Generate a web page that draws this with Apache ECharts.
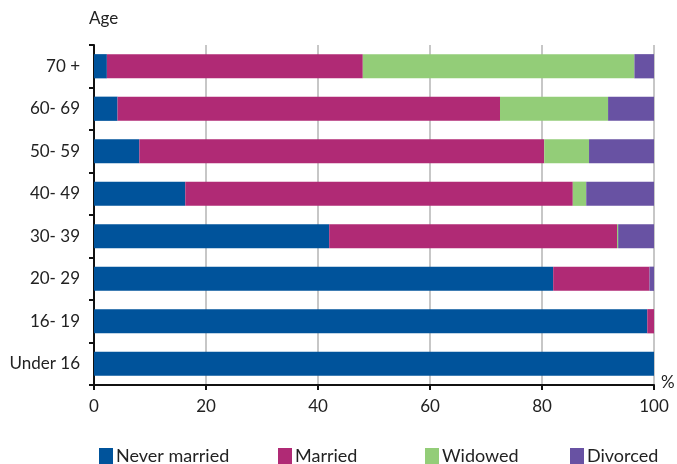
<!DOCTYPE html>
<html>
<head>
<meta charset="utf-8">
<script src="https://cdn.jsdelivr.net/npm/echarts@6/dist/echarts.min.js"></script>
<style>
  html, body { margin: 0; padding: 0; background: #fff; }
  #chart { width: 677px; height: 464px; }
</style>
</head>
<body>
<div id="chart"></div>
<script>
// age groups, top to bottom
const ageGroups = ['70 +', '60- 69', '50- 59', '40- 49', '30- 39', '20- 29', '16- 19', 'Under 16']

// percentage shares per age group
const neverMarried = [2.3, 4.2, 8.1, 16.3, 42.0, 82.0, 98.8, 100]
const married = [45.7, 68.3, 72.3, 69.2, 51.4, 17.2, 1.2, 0]
const widowed = [48.5, 19.3, 8.0, 2.4, 0.2, 0, 0, 0]
const divorced = [3.5, 8.2, 11.6, 12.1, 6.4, 0.8, 0, 0]

const xTicks = [0, 20, 40, 60, 80, 100]

const seriesNames = ['Never married', 'Married', 'Widowed', 'Divorced']
const seriesColors = ['#00539b', '#b02a75', '#93cd78', '#6852a3']
const seriesData = [neverMarried, married, widowed, divorced]

const chart = echarts.init(document.getElementById('chart'))

const font = 'Lato, "Noto Sans", sans-serif'
// legend squares sit at these x positions in the original
const legendLeft = [99, 278, 425, 570]

const option = {
  animation: false,
  textStyle: { fontFamily: font },
  title: [
    { text: 'Age', left: 89, top: 10, padding: 0, textStyle: { fontSize: 17, fontWeight: 'normal', color: '#222', fontFamily: font } },
    { text: '%', left: 661, top: 374, padding: 0, textStyle: { fontSize: 17, fontWeight: 'normal', color: '#222', fontFamily: font } }
  ],
  legend: seriesNames.map((name, i) => ({
    data: [name],
    left: legendLeft[i],
    top: 447,
    itemWidth: 14,
    itemHeight: 16,
    itemGap: 0,
    textStyle: { fontSize: 18, color: '#222', fontFamily: font, padding: [0, 0, 0, -2] },
    icon: 'rect',
    padding: 0
  })),
  grid: { left: 94, right: 23, top: 45, bottom: 79, containLabel: false },
  xAxis: {
    type: 'value',
    min: 0,
    max: 100,
    interval: 20,
    axisLine: { show: true, lineStyle: { color: '#111', width: 2 } },
    axisTick: { show: true, length: 5, lineStyle: { color: '#111', width: 2 } },
    axisLabel: {
      fontSize: 17, color: '#222', margin: 13, fontFamily: font,
      formatter: v => xTicks.includes(v) ? String(v) : ''
    },
    splitLine: { show: true, lineStyle: { color: '#b4b4b4', width: 1.5 } }
  },
  yAxis: {
    type: 'category',
    data: ageGroups,
    inverse: true,
    axisLine: { show: true, lineStyle: { color: '#111', width: 2 } },
    axisTick: { show: true, length: 5, lineStyle: { color: '#111', width: 2 } },
    axisLabel: { fontSize: 17, color: '#222', margin: 14, fontFamily: font }
  },
  series: seriesNames.map((name, i) => ({
    name,
    type: 'bar',
    stack: 'total',
    barWidth: '57%',
    data: seriesData[i],
    itemStyle: { color: seriesColors[i] }
  }))
}

chart.setOption(option)
</script>
</body>
</html>
